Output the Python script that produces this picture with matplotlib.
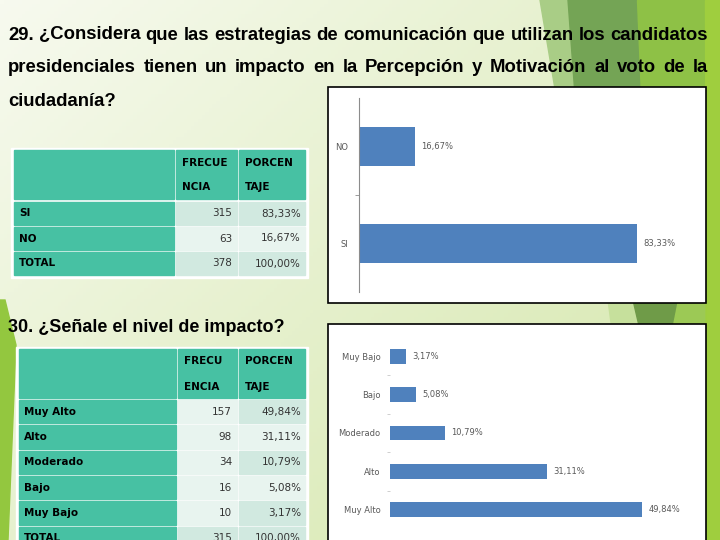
import numpy as np
import matplotlib
matplotlib.use('Agg')
import matplotlib.pyplot as plt
from matplotlib.patches import Rectangle, Polygon
from matplotlib import font_manager

# data
title29 = ['29. ¿Considera que las estrategias de comunicación que utilizan los candidatos',
           'presidenciales tienen un impacto en la Percepción y Motivación al voto de la',
           'ciudadanía?']
title30 = '30. ¿Señale el nivel de impacto?'

q29_labels = ['SI', 'NO']
q29_freq = [315, 63]
q29_pct = [83.33, 16.67]
q29_total = 378

q30_labels = ['Muy Alto', 'Alto', 'Moderado', 'Bajo', 'Muy Bajo']
q30_freq = [157, 98, 34, 16, 10]
q30_pct = [49.84, 31.11, 10.79, 5.08, 3.17]
q30_total = 315

W, H = 720, 540
TEAL = '#47c1a3'
BLUE = '#4f81bd'
GREY = '#595959'

installed = {f.name for f in font_manager.fontManager.ttflist}
NARROW = 'Liberation Sans Narrow' if 'Liberation Sans Narrow' in installed else 'Liberation Sans'
TITLE_SIZE = 14 if NARROW == 'Liberation Sans Narrow' else 13.3


def pct(v):
    return f'{v:.2f}%'.replace('.', ',')


def rect_px(x0, y0, x1, y1):
    return [x0 / W, 1 - y1 / H, (x1 - x0) / W, (y1 - y0) / H]


fig = plt.figure(figsize=(7.2, 5.4), dpi=100)
bg = fig.add_axes([0, 0, 1, 1])
bg.set_xlim(0, W)
bg.set_ylim(H, 0)
bg.axis('off')

# background gradient
gx, gy = np.meshgrid(np.linspace(0, 1, 200), np.linspace(0, 1, 150))
t = np.clip(0.55 * gx + 0.45 * gy, 0, 1)[..., None]
c0 = np.array([0xf7, 0xfa, 0xef]) / 255
c1 = np.array([0xd3, 0xe6, 0xa8]) / 255
bg.imshow(c0 * (1 - t) + c1 * t, extent=[0, W, H, 0], aspect='auto', zorder=0)

# decorative shapes
bg.add_patch(Polygon([(540, 0), (568, 0), (575, 95), (556, 95)], color='#a9cd86', zorder=1))
bg.add_patch(Polygon([(568, 0), (637, 0), (641, 95), (575, 95)], color='#74a455', zorder=1))
bg.add_patch(Polygon([(637, 0), (706, 0), (706, 95), (641, 95)], color='#8ec146', zorder=1))
bg.add_patch(Polygon([(608, 300), (633, 300), (640, 330), (612, 330)], color='#c6e09c', zorder=1))
bg.add_patch(Polygon([(633, 300), (678, 300), (672, 330), (640, 330)], color='#6f9b48', zorder=1))
bg.add_patch(Polygon([(678, 300), (706, 300), (706, 330), (672, 330)], color='#9cc955', zorder=1))
bg.add_patch(Polygon([(705, 0), (720, 0), (720, 540), (706, 540)], color='#9fce3e', zorder=1))
bg.add_patch(Polygon([(0, 300), (5, 300), (16, 345), (8, 540), (0, 540)], color='#93c73f', zorder=1))

renderer = fig.canvas.get_renderer()


def justified(words, x0, x1, y, **kw):
    texts = [bg.text(0, y, w, va='center', ha='left', zorder=5, **kw) for w in words]
    widths = [tx.get_window_extent(renderer).width for tx in texts]
    gap = (x1 - x0 - sum(widths)) / (len(words) - 1)
    x = x0
    for tx, w in zip(texts, widths):
        tx.set_x(x)
        x += w + gap


tkw = dict(fontsize=TITLE_SIZE, fontweight='bold', family=NARROW, color='black')
justified(title29[0].split(), 8, 708, 35, **tkw)
justified(title29[1].split(), 8, 708, 68, **tkw)
bg.text(8, 101, title29[2], va='center', ha='left', zorder=5, **tkw)
bg.text(8, 327, title30, va='center', ha='left', fontsize=13, fontweight='bold',
        family='Liberation Sans', zorder=5)


def draw_table(cols, head, rows, labels, freqs, pcts, head1, head2, dark):
    x0, x3 = cols[0], cols[-1]
    bg.add_patch(Rectangle((x0 - 2, head[0] - 2), x3 - x0 + 4, rows[-1][1] - head[0] + 4,
                           color='white', zorder=2))
    for i in range(3):
        bg.add_patch(Rectangle((cols[i] + 1, head[0]), cols[i + 1] - cols[i] - 2,
                               head[1] - head[0], color=TEAL, zorder=3))
    hy = (head[0] + head[1]) / 2
    for i, (a, b) in enumerate([head1, head2]):
        bg.text(cols[i + 1] + 7, hy - 12, a, fontsize=7.5, fontweight='bold',
                family='DejaVu Sans', va='center', zorder=5)
        bg.text(cols[i + 1] + 7, hy + 13, b, fontsize=7.5, fontweight='bold',
                family='DejaVu Sans', va='center', zorder=5)
    for r, (ya, yb) in enumerate(rows):
        bg.add_patch(Rectangle((cols[0] + 1, ya + 1), cols[1] - cols[0] - 2, yb - ya - 2,
                               color=TEAL, zorder=3))
        for c in (1, 2):
            fc = '#d1e9e0' if dark[r][c - 1] else '#e8f4ef'
            bg.add_patch(Rectangle((cols[c] + 1, ya + 1), cols[c + 1] - cols[c] - 2,
                                   yb - ya - 2, color=fc, zorder=3))
        ym = (ya + yb) / 2
        bg.text(cols[0] + 6, ym, labels[r], fontsize=7.5, fontweight='bold',
                family='DejaVu Sans', va='center', zorder=5)
        bg.text(cols[2] - 6, ym, str(freqs[r]), fontsize=7.5, color='#333333',
                family='DejaVu Sans', va='center', ha='right', zorder=5)
        bg.text(cols[3] - 5, ym, pcts[r], fontsize=7.5, color='#333333',
                family='DejaVu Sans', va='center', ha='right', zorder=5)


rows1 = [(201, 226), (226, 251), (251, 276)]
draw_table([13, 175, 238, 306], (150, 199), rows1,
           q29_labels + ['TOTAL'], q29_freq + [q29_total],
           [pct(v) for v in q29_pct] + [pct(100)],
           ('FRECUE', 'NCIA'), ('PORCEN', 'TAJE'),
           [(1, 1), (0, 0), (1, 1)])

# last row (TOTAL) runs off the bottom edge, as on the slide
rows2 = [(399 + 25.3 * i, 399 + 25.3 * (i + 1)) for i in range(6)]
draw_table([18, 177, 238, 306], (349, 398), rows2,
           q30_labels + ['TOTAL'], q30_freq + [q30_total],
           [pct(v) for v in q30_pct] + [pct(100)],
           ('FRECU', 'ENCIA'), ('PORCEN', 'TAJE'),
           [(0, 1), (0, 0), (0, 1), (0, 0), (0, 1), (1, 1)])

# chart boxes
bg.add_patch(Rectangle((328, 87), 378, 216, facecolor='white', edgecolor='black', lw=1.2, zorder=2))
bg.add_patch(Rectangle((328, 324), 378, 230, facecolor='white', edgecolor='black', lw=1.2, zorder=2))

# chart 29
ax1 = fig.add_axes(rect_px(359, 98, 693, 292))
ax1.set_facecolor('none')
y1 = np.arange(len(q29_labels))
ax1.barh(y1, q29_pct, height=0.4, color=BLUE)
ax1.set_xlim(0, 100)
ax1.set_ylim(-0.5, 1.5)
for s in ('top', 'right', 'bottom'):
    ax1.spines[s].set_visible(False)
ax1.spines['left'].set_color('#8c8c8c')
ax1.set_xticks([])
ax1.set_yticks(y1)
ax1.set_yticklabels(q29_labels, fontsize=6, color=GREY)
ax1.tick_params(axis='y', which='major', length=0, pad=8)
ax1.set_yticks([0.5], minor=True)
ax1.tick_params(axis='y', which='minor', length=3, color='#8c8c8c')
for yy, v in zip(y1, q29_pct):
    ax1.annotate(pct(v), (v, yy), xytext=(4.5, 0), textcoords='offset points',
                 va='center', ha='left', fontsize=6, color=GREY)

# chart 30
ax2 = fig.add_axes(rect_px(390, 337, 690, 529))
ax2.set_facecolor('none')
y2 = np.arange(len(q30_labels))
ax2.barh(y2, q30_pct, height=0.39, color=BLUE)
ax2.set_xlim(0, 300 / 5.06)
ax2.set_ylim(-0.5, 4.5)
for s in ax2.spines.values():
    s.set_visible(False)
ax2.set_xticks([])
ax2.set_yticks(y2)
ax2.set_yticklabels(q30_labels, fontsize=6, color=GREY)
ax2.tick_params(axis='y', which='major', length=0, pad=7)
ax2.set_yticks(y2[:-1] + 0.5, minor=True)
ax2.tick_params(axis='y', which='minor', length=2.5, color='#c8c8c8')
for yy, v in zip(y2, q30_pct):
    ax2.annotate(pct(v), (v, yy), xytext=(4.5, 0), textcoords='offset points',
                 va='center', ha='left', fontsize=6, color=GREY)

fig.savefig('out.png', dpi=100)
